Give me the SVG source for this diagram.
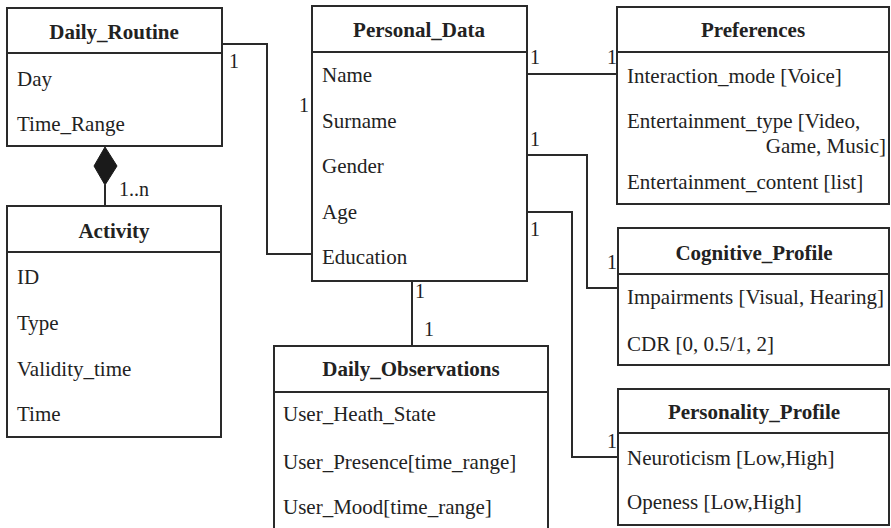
<svg xmlns="http://www.w3.org/2000/svg" width="891" height="528" viewBox="0 0 891 528">
<style>
.box{fill:#fff;stroke:#2a2a2a;stroke-width:2}
.div{stroke:#2a2a2a;stroke-width:2}
.t{font-family:"Liberation Serif","Times New Roman",serif;font-size:21px;fill:#222}
.h{font-family:"Liberation Serif","Times New Roman",serif;font-size:21px;font-weight:bold;fill:#222;text-anchor:middle}
.c{fill:none;stroke:#2a2a2a;stroke-width:2}
.m{font-family:"Liberation Serif","Times New Roman",serif;font-size:20px;fill:#222}
</style>
<rect width="891" height="528" fill="#fff"/>
<g id="connectors">
<polyline class="c" points="222,44 267,44 267,254 312,254"/>
<line class="c" x1="105" y1="185" x2="105" y2="206"/>
<polygon points="105,147 117,166 105,185 94,166" fill="#1a1a1a" stroke="#1a1a1a" stroke-width="1"/>
<polyline class="c" points="527,74 617,74"/>
<polyline class="c" points="527,155 587,155 587,288 618,288"/>
<polyline class="c" points="527,212 572,212 572,457 618,457"/>
<line class="c" x1="412" y1="281" x2="412" y2="346"/>
<text class="m" x="229" y="68">1</text>
<text class="m" x="299" y="112">1</text>
<text class="m" x="119" y="196">1..n</text>
<text class="m" x="530" y="64">1</text>
<text class="m" x="607" y="64">1</text>
<text class="m" x="530" y="146">1</text>
<text class="m" x="530" y="236">1</text>
<text class="m" x="607" y="269">1</text>
<text class="m" x="607" y="448">1</text>
<text class="m" x="415" y="298">1</text>
<text class="m" x="424" y="336">1</text>
</g>
<g id="Daily_Routine">
<rect class="box" x="7" y="8" width="215" height="138"/>
<line class="div" x1="7" y1="53" x2="222" y2="53"/>
<text class="h" x="114" y="39">Daily_Routine</text>
<text class="t" x="17" y="86">Day</text>
<text class="t" x="17" y="131">Time_Range</text>
</g>
<g id="Activity">
<rect class="box" x="7" y="206" width="214" height="231"/>
<line class="div" x1="7" y1="252" x2="221" y2="252"/>
<text class="h" x="114" y="238">Activity</text>
<text class="t" x="17" y="284">ID</text>
<text class="t" x="17" y="330">Type</text>
<text class="t" x="17" y="376">Validity_time</text>
<text class="t" x="17" y="421">Time</text>
</g>
<g id="Personal_Data">
<rect class="box" x="312" y="6" width="215" height="275"/>
<line class="div" x1="312" y1="52" x2="527" y2="52"/>
<text class="h" x="419" y="37">Personal_Data</text>
<text class="t" x="322" y="82">Name</text>
<text class="t" x="322" y="128">Surname</text>
<text class="t" x="322" y="173">Gender</text>
<text class="t" x="322" y="219">Age</text>
<text class="t" x="322" y="264">Education</text>
</g>
<g id="Preferences">
<rect class="box" x="617" y="7" width="272" height="197"/>
<line class="div" x1="617" y1="52" x2="889" y2="52"/>
<text class="h" x="753" y="37">Preferences</text>
<text class="t" x="627" y="83">Interaction_mode [Voice]</text>
<text class="t" x="627" y="128">Entertainment_type [Video,</text>
<text class="t" x="886" y="153" text-anchor="end">Game, Music]</text>
<text class="t" x="627" y="189">Entertainment_content [list]</text>
</g>
<g id="Cognitive_Profile">
<rect class="box" x="618" y="228" width="271" height="137"/>
<line class="div" x1="618" y1="274" x2="889" y2="274"/>
<text class="h" x="754" y="260">Cognitive_Profile</text>
<text class="t" x="627" y="304">Impairments [Visual, Hearing]</text>
<text class="t" x="627" y="351">CDR [0, 0.5/1, 2]</text>
</g>
<g id="Personality_Profile">
<rect class="box" x="618" y="389" width="271" height="136"/>
<line class="div" x1="618" y1="433" x2="889" y2="433"/>
<text class="h" x="754" y="419">Personality_Profile</text>
<text class="t" x="627" y="465">Neuroticism [Low,High]</text>
<text class="t" x="627" y="509">Openess [Low,High]</text>
</g>
<g id="Daily_Observations">
<rect class="box" x="274" y="346" width="274" height="190"/>
<line class="div" x1="274" y1="392" x2="548" y2="392"/>
<text class="h" x="411" y="376">Daily_Observations</text>
<text class="t" x="283" y="421">User_Heath_State</text>
<text class="t" x="283" y="469">User_Presence[time_range]</text>
<text class="t" x="283" y="514">User_Mood[time_range]</text>
</g>
</svg>
